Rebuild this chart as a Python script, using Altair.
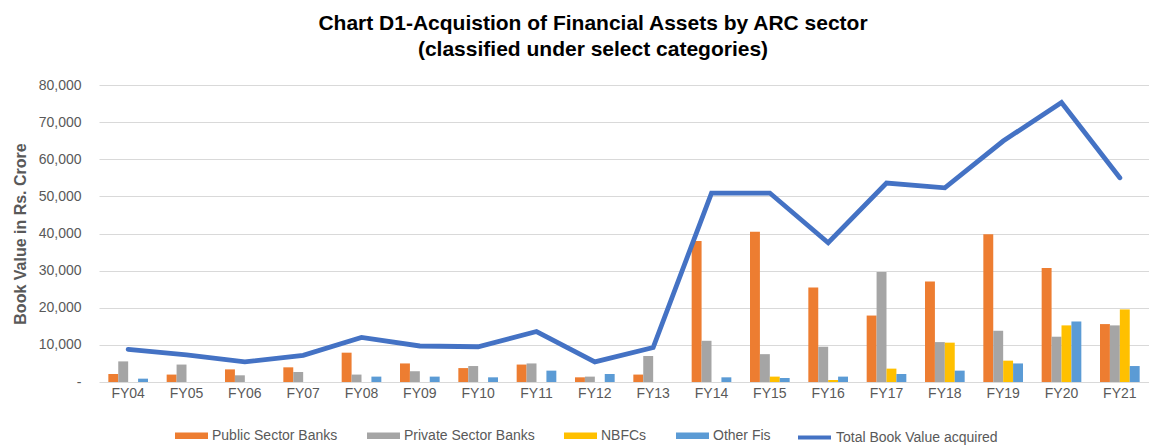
import altair as alt
import pandas as pd

years = ["FY04", "FY05", "FY06", "FY07", "FY08", "FY09", "FY10", "FY11", "FY12",
         "FY13", "FY14", "FY15", "FY16", "FY17", "FY18", "FY19", "FY20", "FY21"]
public_sector = [2150, 2000, 3400, 3950, 7900, 5000, 3750, 4700, 1260,
                 2000, 38000, 40500, 25450, 17900, 27100, 39800, 30700, 15600]
private_sector = [5550, 4700, 1800, 2700, 2000, 2900, 4300, 5000, 1450,
                  7000, 11100, 7500, 9500, 29600, 10750, 13800, 12200, 15250]
nbfcs = [None, None, None, None, None, None, None, None, None,
         None, None, 1450, 540, 3600, 10600, 5750, 15250, 19550]
other_fis = [900, None, None, None, 1450, 1450, 1260, 3060, 2150,
             None, 1260, 1080, 1450, 2150, 3060, 5000, 16300, 4300]
total_value = [8800, 7300, 5400, 7200, 12000, 9700, 9500, 13600, 5400,
               9300, 50900, 50900, 37500, 53600, 52300, 64900, 75300, 55000]
y_ticks = [0, 10000, 20000, 30000, 40000, 50000, 60000, 70000, 80000]

series_names = ["Public Sector Banks", "Private Sector Banks", "NBFCs", "Other Fis"]
series_colors = ["#ED7D31", "#A5A5A5", "#FFC000", "#5B9BD5"]
line_name = "Total Book Value acquired"

rows = []
for name, vals in zip(series_names, [public_sector, private_sector, nbfcs, other_fis]):
    for y, v in zip(years, vals):
        if v is not None:
            rows.append({"year": y, "series": name, "value": v})
bars_df = pd.DataFrame(rows)
line_df = pd.DataFrame({"year": years, "value": total_value, "series": [line_name] * len(years)})

FONT = "Liberation Sans"
GRAY = "#595959"

x_scale = alt.Scale(domain=years, paddingInner=0.32, paddingOuter=0.16)
y_scale = alt.Scale(domain=[0, 80000], nice=False)

x_axis = alt.Axis(title=None, labelAngle=0, ticks=False, domain=False, grid=False,
                  labelFontSize=14, labelColor=GRAY, labelFont=FONT, labelPadding=4)
y_axis = alt.Axis(title="Book Value in Rs. Crore", titleFontSize=16, titleFont=FONT,
                  titleFontWeight="bold", titleColor=GRAY, titlePadding=10,
                  values=y_ticks, labelOverlap=False,
                  labelExpr="datum.value == 0 ? '-\u00a0\u00a0' : format(datum.value, ',')",
                  labelFontSize=14, labelColor=GRAY, labelFont=FONT, labelPadding=18,
                  ticks=False, domain=False, gridColor="#D9D9D9", gridWidth=1)

bars = alt.Chart(bars_df).mark_bar().encode(
    x=alt.X("year:N", scale=x_scale, sort=years, axis=x_axis),
    xOffset=alt.XOffset("series:N", scale=alt.Scale(domain=series_names, paddingInner=0)),
    y=alt.Y("value:Q", scale=y_scale, axis=y_axis),
    color=alt.Color("series:N", scale=alt.Scale(domain=series_names, range=series_colors),
                    legend=alt.Legend(title=None, orient="none", legendX=76, legendY=334,
                                      direction="horizontal",
                                      symbolType="M-1,-0.2H1V0.2H-1Z", symbolSize=1089,
                                      symbolStrokeWidth=0, symbolOpacity=1,
                                      labelFontSize=14, labelColor=GRAY, labelFont=FONT,
                                      labelOffset=4, columnPadding=29, padding=0,
                                      labelLimit=300)),
)

line = alt.Chart(line_df).mark_line(strokeWidth=4.8, strokeCap="round").encode(
    x=alt.X("year:N", scale=x_scale, sort=years, axis=x_axis),
    y=alt.Y("value:Q", scale=y_scale, axis=y_axis),
    stroke=alt.Stroke("series:N", scale=alt.Scale(domain=[line_name], range=["#4472C4"]),
                      legend=alt.Legend(title=None, orient="none", legendX=697, legendY=334,
                                        symbolType="stroke", symbolSize=1089,
                                        symbolStrokeWidth=4,
                                        labelFontSize=14, labelColor=GRAY, labelFont=FONT,
                                        labelOffset=3, padding=0, labelLimit=300)),
)

chart = alt.layer(bars, line).resolve_scale(color="independent").properties(
    width=1050,
    height=297,
    autosize=alt.AutoSizeParams(type="none"),
    padding={"left": 91, "top": 77, "right": 0, "bottom": 64},
    title=alt.Title(
        ["Chart D1-Acquistion of Financial Assets by ARC sector", "(classified under select categories)"],
        fontSize=21, font=FONT, fontWeight="bold", color="#000000",
        lineHeight=26, anchor="middle", dx=-31, offset=18),
).configure_view(stroke=None)

chart.save("out.html", embed_options={"renderer": "svg", "actions": False})
